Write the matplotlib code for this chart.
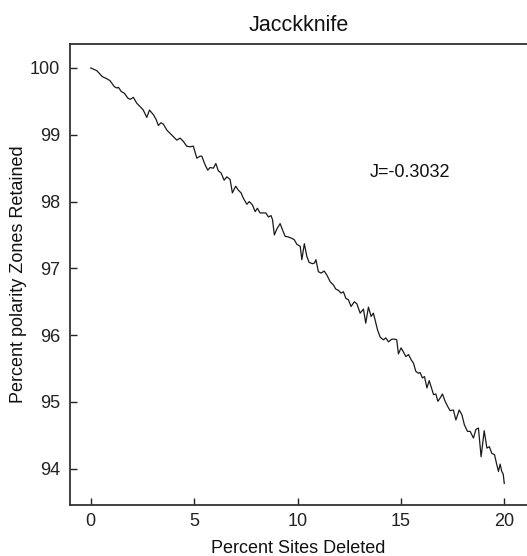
import numpy as np
import matplotlib
matplotlib.use("Agg")
import matplotlib.pyplot as plt

plt.rcParams['font.family'] = ['Liberation Sans', 'DejaVu Sans']

# ── Data ─────────────────────────────────────────────────────
pct_deleted = [
    0.00, 0.29, 0.56, 0.77, 0.93, 1.14, 1.26, 1.34, 1.47, 1.63, 1.79, 1.90,
    2.06, 2.23, 2.39, 2.54, 2.71, 2.84, 3.03, 3.16, 3.27, 3.40, 3.51, 3.68,
    3.84, 4.00, 4.16, 4.32, 4.48, 4.64, 4.80, 4.96, 5.13, 5.29, 5.37, 5.53,
    5.66, 5.77, 5.93, 6.05, 6.17, 6.30, 6.45, 6.58, 6.74, 6.85, 7.01, 7.14,
    7.27, 7.38, 7.55, 7.67, 7.82, 7.95, 8.06, 8.19, 8.35, 8.47, 8.59, 8.72,
    8.79, 8.88, 9.00, 9.16, 9.27, 9.40, 9.56, 9.72, 9.84, 9.97, 10.13, 10.21,
    10.33, 10.45, 10.56, 10.72, 10.82, 10.89, 11.01, 11.14, 11.29, 11.42,
    11.58, 11.74, 11.85, 11.98, 12.11, 12.22, 12.34, 12.46, 12.59, 12.75,
    12.87, 13.03, 13.19, 13.30, 13.43, 13.56, 13.67, 13.75, 13.87, 14.00,
    14.16, 14.27, 14.40, 14.56, 14.72, 14.80, 14.88, 15.01, 15.12, 15.24,
    15.37, 15.50, 15.61, 15.72, 15.85, 15.93, 16.04, 16.14, 16.26, 16.37,
    16.46, 16.58, 16.69, 16.79, 16.90, 17.01, 17.14, 17.27, 17.38, 17.54,
    17.66, 17.82, 17.95, 18.07, 18.22, 18.35, 18.51, 18.63, 18.75, 18.88,
    19.03, 19.16, 19.28, 19.40, 19.53, 19.64, 19.72, 19.80, 19.88, 19.95,
    20.00,
]
pct_retained = [
    100.00, 99.96, 99.87, 99.84, 99.81, 99.72, 99.70, 99.71, 99.65, 99.62,
    99.55, 99.53, 99.56, 99.47, 99.42, 99.37, 99.26, 99.37, 99.30, 99.23,
    99.14, 99.18, 99.16, 99.07, 99.02, 98.97, 98.92, 98.95, 98.90, 98.83,
    98.82, 98.83, 98.65, 98.68, 98.68, 98.55, 98.47, 98.51, 98.50, 98.57,
    98.46, 98.43, 98.32, 98.37, 98.33, 98.13, 98.23, 98.17, 98.13, 98.05,
    97.96, 98.00, 97.95, 97.85, 97.90, 97.83, 97.83, 97.83, 97.77, 97.79,
    97.73, 97.50, 97.59, 97.67, 97.58, 97.48, 97.47, 97.45, 97.43, 97.36,
    97.33, 97.13, 97.37, 97.18, 97.09, 97.07, 97.08, 97.13, 96.95, 96.93,
    96.96, 96.90, 96.80, 96.75, 96.69, 96.67, 96.63, 96.65, 96.55, 96.53,
    96.43, 96.50, 96.47, 96.33, 96.39, 96.18, 96.42, 96.28, 96.33, 96.23,
    96.08, 95.97, 95.93, 95.96, 95.90, 95.94, 95.94, 95.93, 95.72, 95.81,
    95.75, 95.68, 95.71, 95.63, 95.58, 95.46, 95.43, 95.44, 95.36, 95.38,
    95.21, 95.32, 95.23, 95.11, 95.12, 95.01, 95.06, 95.12, 95.01, 94.93,
    94.87, 94.88, 94.73, 94.88, 94.81, 94.66, 94.56, 94.56, 94.46, 94.59,
    94.61, 94.18, 94.57, 94.31, 94.33, 94.23, 94.21, 94.06, 93.96, 94.07,
    93.96, 93.92, 93.78,
]
x_ticks = [0, 5, 10, 15, 20]
y_ticks = [94, 95, 96, 97, 98, 99, 100]
j_label = "J=-0.3032"

# ── Plot ─────────────────────────────────────────────────────
fig = plt.figure(figsize=(5.27, 5.56), dpi=100)
ax = fig.add_axes([0.133, 0.092, 0.867, 0.829])

ax.plot(pct_deleted, pct_retained, color='#1a1a1a', lw=0.9)

ax.set_xlim(-1.0, 21.1)
ax.set_ylim(93.46, 100.36)
ax.set_xticks(x_ticks)
ax.set_yticks(y_ticks)
ax.tick_params(direction='in', length=5, width=1, labelsize=13, colors='#222222',
               pad=6)
ax.tick_params(axis='y', pad=7)
for side in ['left', 'bottom', 'top']:
    ax.spines[side].set_linewidth(1.3)
    ax.spines[side].set_color('#333333')
ax.spines['right'].set_visible(False)

ax.text(15.45, 98.44, j_label, fontsize=13, ha='center', va='center', color='#111111')

ax.set_title('Jacckknife', fontsize=15.5, pad=9, color='#111111')
ax.set_xlabel('Percent Sites Deleted', fontsize=13, labelpad=7, color='#111111')
ax.set_ylabel('Percent polarity Zones Retained', fontsize=13, labelpad=2, color='#111111')

fig.savefig('out.png', dpi=100)
